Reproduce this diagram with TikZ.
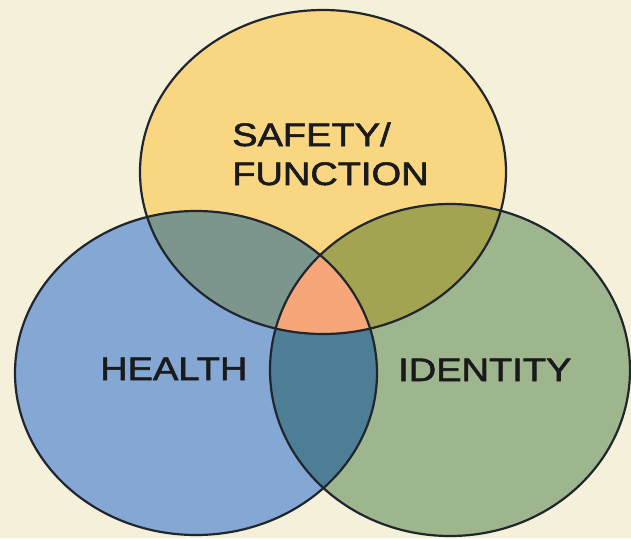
\documentclass[tikz,border=0pt]{standalone}
\usepackage{fontspec}
\setmainfont{Liberation Sans}
\newfontfamily\lblfont{Liberation Sans}[FakeBold=1.6]
\definecolor{bgc}{RGB}{244,240,218}
\definecolor{yelc}{RGB}{249,214,130}
\definecolor{bluec}{RGB}{132,167,211}
\definecolor{greenc}{RGB}{158,182,142}
\definecolor{tlc}{RGB}{124,150,142}
\definecolor{trc}{RGB}{163,164,82}
\definecolor{lrc}{RGB}{78,126,150}
\definecolor{midc}{RGB}{246,166,120}
\definecolor{linec}{RGB}{32,38,46}
\definecolor{txtc}{RGB}{26,26,28}
\begin{document}
\begin{tikzpicture}[x=1pt,y=-1pt,
  lbl/.style={inner sep=0pt, anchor=base west, text=txtc, font=\lblfont\fontsize{32.5}{39}\selectfont},
  ring/.style={draw=linec, line width=2.2pt}]
\fill[bgc] (0,0) rectangle (631,538);
\useasboundingbox (0,0) rectangle (631,538);
% base fills
\fill[bluec] (196,373) ellipse [x radius=181, y radius=162];
\fill[greenc] (450,370) ellipse [x radius=180, y radius=166];
\fill[yelc] (323,172) ellipse [x radius=183, y radius=162];
% pairwise overlaps
\begin{scope}
  \clip (323,172) ellipse [x radius=183, y radius=162];
  \fill[tlc] (196,373) ellipse [x radius=181, y radius=162];
  \fill[trc] (450,370) ellipse [x radius=180, y radius=166];
\end{scope}
\begin{scope}
  \clip (196,373) ellipse [x radius=181, y radius=162];
  \fill[lrc] (450,370) ellipse [x radius=180, y radius=166];
\end{scope}
% triple overlap
\begin{scope}
  \clip (323,172) ellipse [x radius=183, y radius=162];
  \clip (196,373) ellipse [x radius=181, y radius=162];
  \fill[midc] (450,370) ellipse [x radius=180, y radius=166];
\end{scope}
% outlines
\draw[ring] (196,373) ellipse [x radius=181, y radius=162];
\draw[ring] (450,370) ellipse [x radius=180, y radius=166];
\draw[ring] (323,172) ellipse [x radius=183, y radius=162];
% labels
\node[lbl] (safety) at (232,146) {\scalebox{1.17}[1]{SAFETY/}};
\node[lbl] (function) at (232,185) {\scalebox{1.17}[1]{FUNCTION}};
\node[lbl] (health) at (100,380) {\scalebox{1.17}[1]{HEALTH}};
\node[lbl] (identity) at (398,381) {\scalebox{1.17}[1]{IDENTITY}};
\end{tikzpicture}
\end{document}
